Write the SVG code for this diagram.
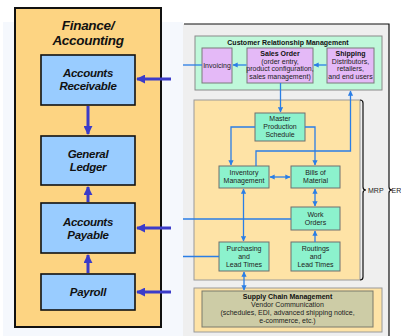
<svg xmlns="http://www.w3.org/2000/svg" width="401" height="336" viewBox="0 0 401 336">
<defs>
<style>
.fin{fill:#fdd482;stroke:#111;stroke-width:2}
.acc{fill:#99ccff;stroke:#111;stroke-width:1.6}
.ft{font-family:"Liberation Sans",Arial,sans-serif;font-weight:bold;font-style:italic;fill:#111;text-anchor:middle;letter-spacing:-0.3px}
.crm{fill:#bff8da;stroke:#8a8a8a;stroke-width:1}
.pur{fill:#e4b9f7;stroke:#7a7a7a;stroke-width:1}
.mrp{fill:#fee3a6;stroke:#9a9a9a;stroke-width:1}
.grn{fill:#8cf2cd;stroke:#6f6f6f;stroke-width:1}
.olv{fill:#cdcca6;stroke:#7a7a6a;stroke-width:1}
.t{font-family:"Liberation Sans",Arial,sans-serif;font-size:7px;fill:#222;text-anchor:middle}
.b{font-weight:bold;fill:#111}
.thin{fill:none;stroke:#2a7ee6;stroke-width:1.3}
.thick{fill:none;stroke:#3b3bc9;stroke-width:3}
.br{fill:none;stroke:#111;stroke-width:1.2}
</style>
<marker id="ah" viewBox="0 0 10 10" refX="9" refY="5" markerWidth="4" markerHeight="4" orient="auto-start-reverse" markerUnits="strokeWidth">
<path d="M0,0 L10,5 L0,10 z" fill="#2a7ee6"/>
</marker>
<marker id="ahT" viewBox="0 0 10 10" refX="9" refY="5" markerWidth="3" markerHeight="3" orient="auto-start-reverse" markerUnits="strokeWidth">
<path d="M0,0 L10,5 L0,10 z" fill="#3b3bc9"/>
</marker>
</defs>
<rect x="0" y="0" width="401" height="336" fill="#ffffff"/>
<rect x="3" y="22" width="180" height="314" fill="#f5f8fd"/>
<rect x="183" y="24" width="206" height="312" fill="#efefef"/>
<path d="M184,24 L389,24 L389,187 Q389,190 392,190 Q389,190 389,193 L389,336" class="br"/>
<text x="391.5" y="193" class="t" style="text-anchor:start">ER</text>

<g id="finance">
<rect x="15" y="8" width="146" height="319" class="fin"/>
<text x="88" y="30" class="ft" font-size="13.5">Finance/</text>
<text x="88" y="44.5" class="ft" font-size="13.5">Accounting</text>
</g>
<g id="accounts-receivable">
<rect x="41" y="55" width="94" height="50" class="acc"/>
<text x="88" y="77" class="ft" font-size="11.5">Accounts</text>
<text x="88" y="90" class="ft" font-size="11.5">Receivable</text>
</g>
<g id="general-ledger">
<rect x="41" y="136" width="94" height="49" class="acc"/>
<text x="88" y="158" class="ft" font-size="11.5">General</text>
<text x="88" y="171" class="ft" font-size="11.5">Ledger</text>
</g>
<g id="accounts-payable">
<rect x="41" y="203" width="94" height="50" class="acc"/>
<text x="88" y="225.5" class="ft" font-size="11.5">Accounts</text>
<text x="88" y="238.5" class="ft" font-size="11.5">Payable</text>
</g>
<g id="payroll">
<rect x="41" y="274" width="94" height="36" class="acc"/>
<text x="88" y="295.5" class="ft" font-size="11.5">Payroll</text>
</g>

<g id="crm">
<rect x="195" y="36" width="187" height="54" class="crm"/>
<text x="288" y="45" class="t b" font-size="7">Customer Relationship Management</text>
</g>
<g id="invoicing">
<rect x="202" y="48" width="30" height="35" class="pur"/>
<text x="217" y="67.5" class="t">Invoicing</text>
</g>
<g id="sales-order">
<rect x="247" y="48" width="66" height="35" class="pur"/>
<text x="280" y="56" class="t b">Sales Order</text>
<text x="280" y="63.5" class="t">(order entry,</text>
<text x="280" y="71" class="t">product configuration,</text>
<text x="280" y="78.5" class="t">sales management)</text>
</g>
<g id="shipping">
<rect x="327" y="48" width="47" height="35" class="pur"/>
<text x="350.5" y="56" class="t b">Shipping</text>
<text x="350.5" y="63.5" class="t">Distributors,</text>
<text x="350.5" y="71" class="t">retailers,</text>
<text x="350.5" y="78.5" class="t">and end users</text>
</g>

<g id="mrp">
<rect x="194" y="100" width="166" height="180" class="mrp"/>
<path d="M360,100 Q363,100 363,103 L363,187 Q363,190 366,190 Q363,190 363,193 L363,277 Q363,280 360,280" class="br"/>
<text x="368" y="193" class="t" style="text-anchor:start">MRP</text>
</g>
<g id="master-production-schedule">
<rect x="255" y="113" width="50" height="28" class="grn"/>
<text x="280" y="121" class="t">Master</text>
<text x="280" y="129" class="t">Production</text>
<text x="280" y="137" class="t">Schedule</text>
</g>
<g id="inventory-management">
<rect x="219" y="166" width="50" height="22" class="grn"/>
<text x="244" y="175" class="t">Inventory</text>
<text x="244" y="183" class="t">Management</text>
</g>
<g id="bills-of-material">
<rect x="291" y="166" width="49" height="22" class="grn"/>
<text x="315.5" y="175" class="t">Bills of</text>
<text x="315.5" y="183" class="t">Material</text>
</g>
<g id="work-orders">
<rect x="291" y="207" width="49" height="23" class="grn"/>
<text x="315.5" y="216.5" class="t">Work</text>
<text x="315.5" y="224.5" class="t">Orders</text>
</g>
<g id="purchasing">
<rect x="219" y="242" width="50" height="29" class="grn"/>
<text x="244" y="251" class="t">Purchasing</text>
<text x="244" y="259" class="t">and</text>
<text x="244" y="267" class="t">Lead Times</text>
</g>
<g id="routings">
<rect x="291" y="242" width="49" height="29" class="grn"/>
<text x="315.5" y="251" class="t">Routings</text>
<text x="315.5" y="259" class="t">and</text>
<text x="315.5" y="267" class="t">Lead Times</text>
</g>

<g id="scm">
<rect x="194" y="288" width="188" height="44" class="mrp"/>
<rect x="202" y="291" width="171" height="36" class="olv"/>
<text x="287.5" y="299" class="t b">Supply Chain Management</text>
<text x="287.5" y="307" class="t">Vendor Communication</text>
<text x="287.5" y="315" class="t">(schedules, EDI, advanced shipping notice,</text>
<text x="287.5" y="323" class="t">e-commerce, etc.)</text>
</g>

<g id="connectors">
<path d="M88,106 L88,134" class="thick" marker-end="url(#ahT)"/>
<path d="M88,202 L88,187" class="thick" marker-end="url(#ahT)"/>
<path d="M88,273 L88,255" class="thick" marker-end="url(#ahT)"/>
<path d="M171,79 L137,79" class="thick" marker-end="url(#ahT)"/>
<path d="M171,228 L137,228" class="thick" marker-end="url(#ahT)"/>
<path d="M171,292 L137,292" class="thick" marker-end="url(#ahT)"/>

<path d="M183,65 L202,65" class="thin"/>
<path d="M246.5,65 L233,65" class="thin" marker-end="url(#ah)"/>
<path d="M326.5,65 L314,65" class="thin" marker-end="url(#ah)"/>
<path d="M280.5,83 L280.5,112" class="thin" marker-end="url(#ah)"/>
<path d="M256,166 L256,151 L350.5,151 L350.5,91" class="thin" marker-end="url(#ah)"/>
<path d="M255,127 L231,127 L231,165" class="thin" marker-end="url(#ah)"/>
<path d="M305,127 L315,127 L315,165" class="thin" marker-end="url(#ah)"/>
<path d="M270,177 L290,177" class="thin" marker-start="url(#ah)" marker-end="url(#ah)"/>
<path d="M315,189 L315,206" class="thin" marker-start="url(#ah)" marker-end="url(#ah)"/>
<path d="M315,242 L315,231" class="thin" marker-end="url(#ah)"/>
<path d="M243.5,189 L243.5,241" class="thin" marker-start="url(#ah)" marker-end="url(#ah)"/>
<path d="M183,219 L291,219" class="thin"/>
<path d="M183,256.5 L219,256.5" class="thin"/>
<path d="M244,272 L244,290" class="thin" marker-start="url(#ah)" marker-end="url(#ah)"/>
</g>
</svg>
